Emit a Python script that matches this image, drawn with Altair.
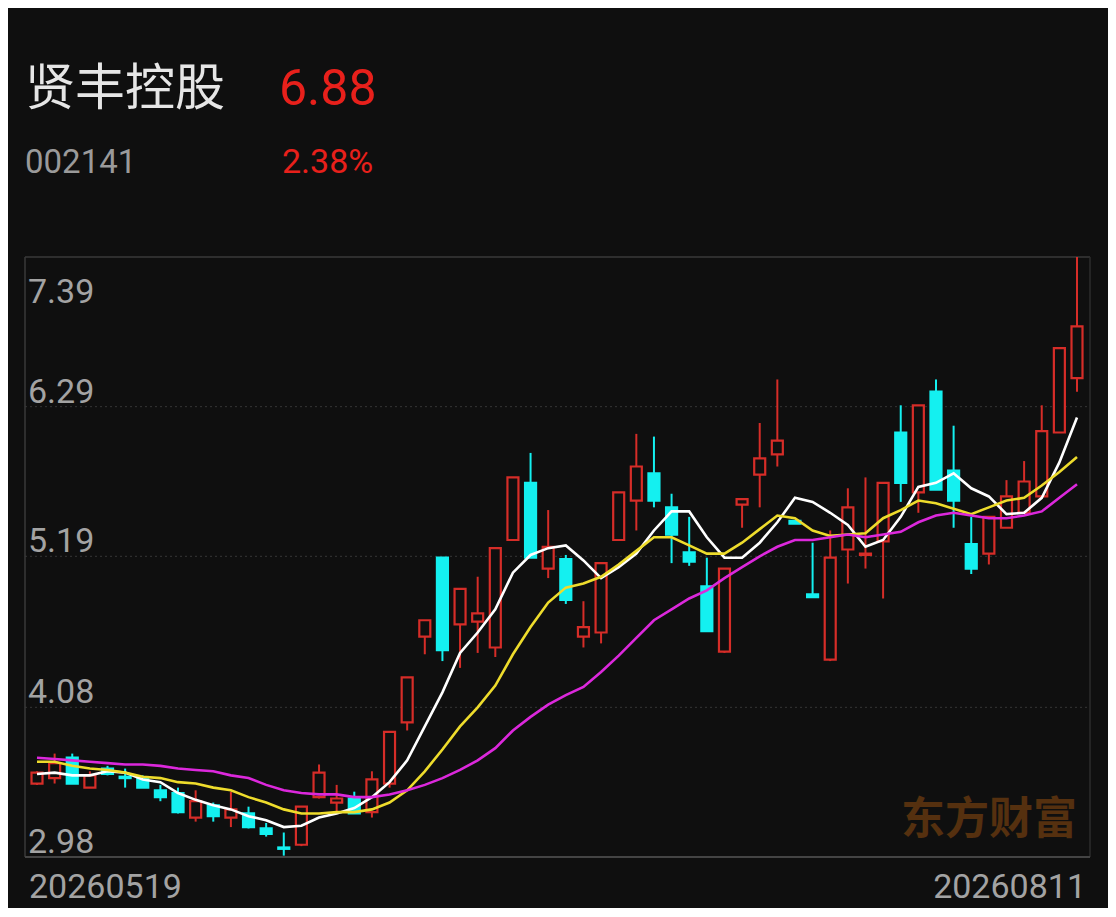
import altair as alt
import pandas as pd

# ---------------- data ----------------
stock_name = ["贤丰控股"]
stock_code = ["002141"]
last_price = ["6.88"]
change_pct = ["2.38%"]
date_labels = ["20260519", "20260811"]

opens = [3.52, 3.56, 3.71, 3.49, 3.63, 3.57, 3.56, 3.47, 3.45, 3.27,
         3.36, 3.27, 3.30, 3.19, 3.05, 3.07, 3.42, 3.38, 3.41, 3.31,
         3.52, 3.97, 4.60, 5.18, 4.69, 4.71, 4.52, 5.31, 5.73, 5.10,
         5.17, 4.60, 4.63, 5.31, 5.60, 5.80, 5.55, 5.22, 4.97, 4.49,
         5.57, 5.79, 5.94, 5.45, 4.91, 4.43, 5.24, 5.20, 5.30, 6.10,
         5.66, 6.40, 5.82, 5.28, 5.21, 5.40, 5.51, 5.63, 6.10, 6.50]
highs = [3.61, 3.74, 3.74, 3.61, 3.65, 3.63, 3.58, 3.51, 3.49, 3.47,
         3.38, 3.46, 3.35, 3.23, 3.16, 3.35, 3.66, 3.51, 3.46, 3.61,
         3.90, 4.30, 4.72, 5.18, 4.95, 5.04, 5.25, 5.77, 5.95, 5.53,
         5.20, 4.86, 5.14, 5.66, 6.09, 6.07, 5.65, 5.48, 5.18, 5.10,
         5.61, 6.17, 6.49, 5.45, 5.29, 5.38, 5.69, 5.77, 5.73, 6.30,
         6.30, 6.49, 6.15, 5.48, 5.48, 5.75, 5.89, 6.30, 6.72, 7.39]
lows = [3.51, 3.52, 3.52, 3.49, 3.58, 3.49, 3.49, 3.39, 3.30, 3.24,
        3.24, 3.20, 3.19, 3.13, 2.99, 3.06, 3.41, 3.31, 3.30, 3.27,
        3.49, 3.91, 4.47, 4.42, 4.37, 4.48, 4.45, 5.31, 5.18, 5.03,
        4.84, 4.52, 4.55, 5.31, 5.38, 5.55, 5.14, 5.12, 4.64, 4.48,
        5.40, 5.55, 5.85, 5.43, 4.89, 4.42, 4.99, 5.10, 4.88, 5.59,
        5.51, 5.68, 5.40, 5.06, 5.13, 5.40, 5.51, 5.63, 6.10, 6.40]
closes = [3.60, 3.67, 3.52, 3.58, 3.59, 3.56, 3.49, 3.42, 3.31, 3.39,
          3.28, 3.33, 3.20, 3.15, 3.04, 3.35, 3.60, 3.41, 3.30, 3.55,
          3.90, 4.30, 4.72, 4.50, 4.95, 4.77, 5.25, 5.77, 5.18, 5.26,
          4.87, 4.67, 5.14, 5.66, 5.85, 5.60, 5.35, 5.15, 4.64, 5.10,
          5.61, 5.91, 6.04, 5.43, 4.89, 5.18, 5.55, 5.21, 5.73, 5.73,
          6.30, 5.68, 5.60, 5.10, 5.48, 5.63, 5.74, 6.11, 6.72, 6.88]

ma5 = [3.59, 3.60, 3.58, 3.58, 3.61, 3.60, 3.55, 3.53, 3.45, 3.40,
       3.36, 3.33, 3.28, 3.25, 3.20, 3.21, 3.27, 3.30, 3.34, 3.42,
       3.53, 3.69, 3.94, 4.19, 4.48, 4.63, 4.80, 5.07, 5.20, 5.25,
       5.27, 5.16, 5.03, 5.11, 5.21, 5.38, 5.52, 5.52, 5.33, 5.18,
       5.18, 5.29, 5.44, 5.62, 5.59, 5.51, 5.42, 5.26, 5.31, 5.48,
       5.70, 5.73, 5.80, 5.69, 5.63, 5.50, 5.51, 5.62, 5.88, 6.21]
ma10 = [3.68, 3.68, 3.65, 3.63, 3.62, 3.60, 3.57, 3.56, 3.53, 3.52,
        3.49, 3.47, 3.42, 3.38, 3.33, 3.30, 3.30, 3.31, 3.31, 3.33,
        3.38, 3.47, 3.61, 3.77, 3.94, 4.08, 4.24, 4.47, 4.67, 4.85,
        4.96, 4.99, 5.04, 5.13, 5.23, 5.33, 5.33, 5.27, 5.21, 5.21,
        5.29, 5.39, 5.49, 5.47, 5.38, 5.34, 5.35, 5.36, 5.47, 5.53,
        5.60, 5.58, 5.54, 5.50, 5.55, 5.60, 5.62, 5.71, 5.81, 5.92]
ma20 = [3.71, 3.70, 3.69, 3.68, 3.67, 3.66, 3.66, 3.65, 3.63, 3.62,
        3.61, 3.58, 3.56, 3.51, 3.47, 3.45, 3.44, 3.44, 3.42, 3.42,
        3.44, 3.47, 3.51, 3.56, 3.62, 3.69, 3.78, 3.91, 4.01, 4.10,
        4.17, 4.23, 4.34, 4.46, 4.59, 4.72, 4.80, 4.88, 4.94, 5.03,
        5.11, 5.19, 5.26, 5.31, 5.31, 5.33, 5.35, 5.33, 5.35, 5.37,
        5.44, 5.49, 5.51, 5.49, 5.47, 5.47, 5.49, 5.52, 5.62, 5.72]

tick_values = [7.39, 6.29, 5.19, 4.08, 2.98]
tick_labels = ["7.39", "6.29", "5.19", "4.08", "2.98"]
grid_values = [6.29, 5.19, 4.08]
watermark = ["东方财富"]

# ---------------- styling ----------------
BG = "#0f0f0f"
RED = "#d62d28"
CYAN = "#14f0f0"
TXT_RED = "#e8201b"
GREY = "#a3a3a3"
LINE = "#3a3a3a"
W, H = 1100, 900
PL, PR, PT, PB = 17, 1082, 249, 849

n = len(closes)
df = pd.DataFrame({
    "idx": list(range(n)),
    "open": opens, "high": highs, "low": lows, "close": closes,
})
df["dir"] = ["up" if c >= o else "down" for o, c in zip(opens, closes)]

ma_df = pd.concat([
    pd.DataFrame({"idx": list(range(n)), "value": ma5, "series": "MA5"}),
    pd.DataFrame({"idx": list(range(n)), "value": ma10, "series": "MA10"}),
    pd.DataFrame({"idx": list(range(n)), "value": ma20, "series": "MA20"}),
])

xs = alt.Scale(domain=[0, n - 1], range=[24, 1074], nice=False, zero=False)
ys = alt.Scale(domain=[2.98, 7.39], range=[PB, PT], nice=False, zero=False)
dir_color = alt.Scale(domain=["up", "down"], range=[RED, CYAN])
dir_fill = alt.Scale(domain=["up", "down"], range=[BG, CYAN])

one = pd.DataFrame({"k": [0]})

# grid lines
grid = alt.Chart(pd.DataFrame({"v": grid_values})).mark_rule(
    color="#363636", strokeDash=[2, 3], strokeWidth=1
).encode(
    y=alt.Y("v:Q", scale=ys, axis=None),
    x=alt.value(PL), x2=alt.value(PR),
)

# frame
frame_top = alt.Chart(one).mark_rule(color=LINE, strokeWidth=1.5).encode(
    x=alt.value(PL), x2=alt.value(PR), y=alt.value(PT))
frame_bottom = alt.Chart(one).mark_rule(color="#444444", strokeWidth=2).encode(
    x=alt.value(PL), x2=alt.value(PR), y=alt.value(PB))
frame_left = alt.Chart(one).mark_rule(color=LINE, strokeWidth=1.5).encode(
    x=alt.value(PL), y=alt.value(PT), y2=alt.value(PB))
frame_right = alt.Chart(one).mark_rule(color="#2c2c2c", strokeWidth=1.5).encode(
    x=alt.value(PR), y=alt.value(PT), y2=alt.value(PB))

base = alt.Chart(df)
wicks = base.mark_rule(strokeWidth=2).encode(
    x=alt.X("idx:Q", scale=xs, axis=None),
    y=alt.Y("low:Q", scale=ys, axis=None),
    y2="high:Q",
    stroke=alt.Stroke("dir:N", scale=dir_color, legend=None),
)
bodies = base.mark_bar(size=11, strokeWidth=2.2).encode(
    x=alt.X("idx:Q", scale=xs, axis=None),
    y=alt.Y("open:Q", scale=ys, axis=None),
    y2="close:Q",
    fill=alt.Fill("dir:N", scale=dir_fill, legend=None),
    stroke=alt.Stroke("dir:N", scale=dir_color, legend=None),
)

lines = alt.Chart(ma_df).mark_line(strokeWidth=2.6).encode(
    x=alt.X("idx:Q", scale=xs, axis=None),
    y=alt.Y("value:Q", scale=ys, axis=None),
    color=alt.Color("series:N", scale=alt.Scale(
        domain=["MA5", "MA10", "MA20"],
        range=["#ffffff", "#eedc2c", "#dc28dc"]), legend=None),
    detail="series:N",
)

# y tick labels (inside the plot)
ticks_df = pd.DataFrame({"v": tick_values, "t": tick_labels})
tick_top = alt.Chart(ticks_df.iloc[:1]).mark_text(
    align="left", baseline="alphabetic", dy=46, font="Roboto",
    fontSize=34, color=GREY
).encode(x=alt.value(20), y=alt.Y("v:Q", scale=ys, axis=None), text="t:N")
tick_rest = alt.Chart(ticks_df.iloc[1:]).mark_text(
    align="left", baseline="alphabetic", dy=-4, font="Roboto",
    fontSize=34, color=GREY
).encode(x=alt.value(20), y=alt.Y("v:Q", scale=ys, axis=None), text="t:N")

# date labels
date_left = alt.Chart(pd.DataFrame({"t": date_labels[:1]})).mark_text(
    align="left", baseline="alphabetic", font="Roboto", fontSize=34, color=GREY
).encode(x=alt.value(21), y=alt.value(890), text="t:N")
date_right = alt.Chart(pd.DataFrame({"t": date_labels[1:]})).mark_text(
    align="right", baseline="alphabetic", font="Roboto", fontSize=34, color=GREY
).encode(x=alt.value(1078), y=alt.value(890), text="t:N")

# header
name_t = alt.Chart(pd.DataFrame({"t": stock_name})).mark_text(
    align="left", baseline="alphabetic", font="Noto Sans CJK SC",
    fontSize=50, color="#e6e6e6"
).encode(x=alt.value(17), y=alt.value(97), text="t:N")
price_t = alt.Chart(pd.DataFrame({"t": last_price})).mark_text(
    align="left", baseline="alphabetic", font="Roboto",
    fontSize=50, color=TXT_RED
).encode(x=alt.value(271), y=alt.value(97), text="t:N")
code_t = alt.Chart(pd.DataFrame({"t": stock_code})).mark_text(
    align="left", baseline="alphabetic", font="Roboto",
    fontSize=33, color="#9a9a9a"
).encode(x=alt.value(17), y=alt.value(165), text="t:N")
pct_t = alt.Chart(pd.DataFrame({"t": change_pct})).mark_text(
    align="left", baseline="alphabetic", font="Roboto",
    fontSize=34, color=TXT_RED
).encode(x=alt.value(274), y=alt.value(165), text="t:N")

wm = alt.Chart(pd.DataFrame({"t": watermark})).mark_text(
    align="center", baseline="middle", font="Noto Sans CJK SC",
    fontSize=44, fontWeight="bold", color="#55300f"
).encode(x=alt.value(981), y=alt.value(813), text="t:N")

chart = alt.layer(
    grid, frame_top, frame_left, frame_right, wm,
    wicks, bodies, lines, frame_bottom,
    tick_top, tick_rest, date_left, date_right,
    name_t, price_t, code_t, pct_t,
).properties(
    width=W, height=H, padding=0,
    autosize=alt.AutoSizeParams(type="none"),
    background=BG,
).configure_view(stroke=None)

chart.save("out.html", embed_options={"renderer": "svg", "actions": False})
